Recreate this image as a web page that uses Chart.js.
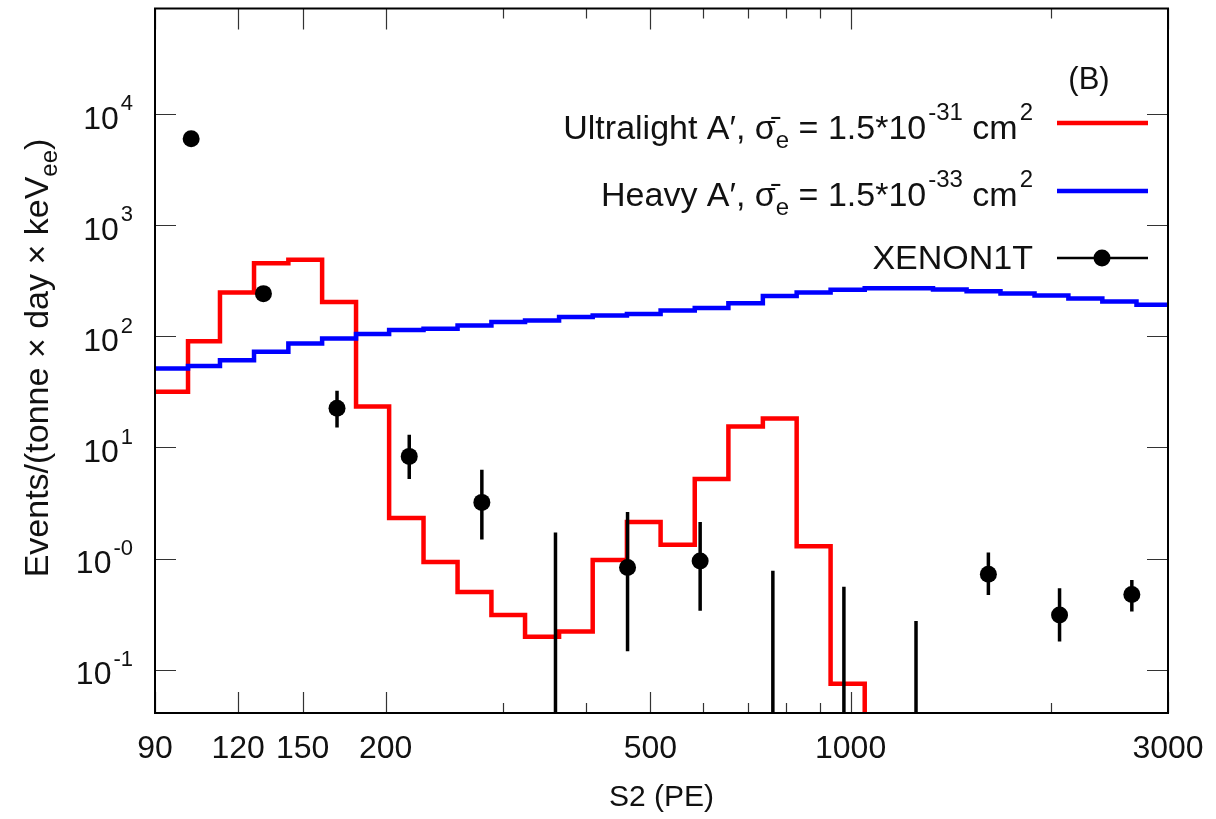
<!DOCTYPE html>
<html>
<head>
<meta charset="utf-8">
<script src="https://cdn.jsdelivr.net/npm/chart.js@4.4.0/dist/chart.umd.min.js"></script>
<style>
html, body { margin: 0; padding: 0; background: #fff; }
</style>
</head>
<body>
<canvas id="myChart" width="1216" height="819"></canvas>
<script>
// histogram bin edges in S2 (PE)
const binEdges = [89.7, 100.9, 112.7, 126.8, 142.8, 160.5, 180.5, 202.4, 228, 256.5, 288.4, 324, 364.5,
	409.5, 461, 518, 583, 655, 738, 829.6, 933, 1050, 1182, 1330, 1494, 1680, 1890, 2125, 2390, 2690, 3020];

// Ultralight A' (red), last bin is below the axis
const ultralight = [31.6, 90, 248, 455, 488, 203, 23.3, 2.31, 0.93, 0.50, 0.31, 0.198, 0.22, 0.97, 2.13,
	1.33, 5.2, 15.4, 18.2, 1.29, 0.0748, 0.01];

// Heavy A' (blue)
const heavy = [51.4, 54, 61, 72.5, 86, 95.5, 105, 114, 117, 125, 134.6, 139, 149, 153.6, 159, 171, 180,
	198, 230, 248, 262, 270, 270, 264, 254, 243, 233, 219, 206, 192];

// XENON1T data points, null rate = point below the axis
const xenonS2 = [102, 131, 169, 217, 279, 360, 462, 594, 764, 977, 1254, 1611, 2061, 2647];
const xenonRate = [6000, 242, 22.5, 8.3, 3.2, null, 0.83, 0.95, null, null, null, 0.72, 0.31, 0.475];
const xenonLow = [null, null, 15.1, 5.2, 1.48, 0.001, 0.146, 0.339, 0.001, 0.001, 0.001, 0.469, 0.179, 0.333];
const xenonHigh = [null, null, 32.3, 13.0, 6.28, 1.71, 2.62, 2.13, 0.774, 0.557, 0.274, 1.13, 0.54, 0.64];

const xMajorTicks = [90, 120, 150, 200, 500, 1000, 3000];
const xMinorTicks = [300, 400, 600, 700, 800, 900, 2000];
const yPowers = [-1, 0, 1, 2, 3, 4];
const yPowerLabels = ['-1', '-0', '1', '2', '3', '4'];

const panelLabel = '(B)';
const legendRows = [
	{ color: 'rgb(255,0,0)', parts: [['Ultralight A\u2032, \u03c3\u0304', ''], ['e', 'sub'], [' = 1.5*10', ''], ['-31', 'sup'], [' cm', ''], ['2', 'sup']] },
	{ color: 'rgb(0,0,255)', parts: [['Heavy A\u2032, \u03c3\u0304', ''], ['e', 'sub'], [' = 1.5*10', ''], ['-33', 'sup'], [' cm', ''], ['2', 'sup']] },
	{ color: '#000', dot: true, parts: [['XENON1T', '']] }
];
const yTitle = [['Events/(tonne \u00d7 day \u00d7 keV', ''], ['ee', 'sub'], [')', '']];

const FONT = "'Liberation Sans', Arial, sans-serif";

function histPoints(values) {
	let pts = values.map((v, i) => ({ x: binEdges[i], y: v }));
	pts.push({ x: binEdges[values.length], y: values[values.length - 1] });
	return pts;
}

let barPts = [];
xenonS2.forEach((x, i) => {
	if (xenonHigh[i] == null) return;
	barPts.push({ x: x, y: xenonLow[i] }, { x: x, y: xenonHigh[i] }, { x: x, y: null });
});

function drawRich(ctx, parts, x, y, size, align) {
	const fontOf = k => (k ? Math.round(size * 0.7) : size) + 'px ' + FONT;
	const widths = parts.map(([t, k]) => { ctx.font = fontOf(k); return ctx.measureText(t).width + (k === 'sup' ? 2 : 0); });
	const total = widths.reduce((a, b) => a + b, 0);
	let cx = align === 'right' ? x - total : align === 'center' ? x - total / 2 : x;
	ctx.textAlign = 'left';
	ctx.textBaseline = 'alphabetic';
	parts.forEach(([t, k], i) => {
		ctx.font = fontOf(k);
		let dy = k === 'sup' ? -0.57 * size : k === 'sub' ? 0.25 * size : 0;
		ctx.fillText(t, cx + (k === 'sup' ? 2 : 0), y + dy);
		cx += widths[i];
	});
}

function noPadding(scale) {
	scale.paddingLeft = 0;
	scale.paddingRight = 0;
	scale.paddingTop = 0;
	scale.paddingBottom = 0;
}

const framePlugin = {
	id: 'frame',
	afterDraw(chart) {
		const ctx = chart.ctx;
		const a = chart.chartArea;
		const xs = chart.scales.x, ys = chart.scales.y;
		ctx.save();

		// inward ticks
		ctx.strokeStyle = '#333';
		ctx.lineWidth = 1.2;
		ctx.beginPath();
		xMajorTicks.concat(xMinorTicks).forEach(v => {
			const px = Math.round(xs.getPixelForValue(v)) + 0.5;
			const len = xMinorTicks.includes(v) ? 10 : 21;
			ctx.moveTo(px, a.bottom); ctx.lineTo(px, a.bottom - len);
			ctx.moveTo(px, a.top); ctx.lineTo(px, a.top + len);
		});
		yPowers.forEach(p => {
			const py = Math.round(ys.getPixelForValue(Math.pow(10, p))) + 0.5;
			ctx.moveTo(a.left, py); ctx.lineTo(a.left + 21, py);
			ctx.moveTo(a.right, py); ctx.lineTo(a.right - 21, py);
		});
		ctx.stroke();

		// frame
		ctx.strokeStyle = '#000';
		ctx.lineWidth = 2;
		ctx.strokeRect(a.left, a.top, a.right - a.left, a.bottom - a.top);

		ctx.fillStyle = '#111';
		// y tick labels
		yPowers.forEach((p, i) => {
			const py = ys.getPixelForValue(Math.pow(10, p));
			drawRich(ctx, [['10', ''], [yPowerLabels[i], 'sup']], 133, py + 14.5, 32, 'right');
		});

		// y title
		ctx.save();
		ctx.translate(48, 358);
		ctx.rotate(-Math.PI / 2);
		drawRich(ctx, yTitle, 0, 0, 34, 'center');
		ctx.restore();

		// panel label
		ctx.font = '31px ' + FONT;
		ctx.textAlign = 'center';
		ctx.textBaseline = 'alphabetic';
		ctx.fillText(panelLabel, 1089, 89);

		// legend
		const rowLine = [123, 191, 258];
		const rowBase = [139, 206, 269];
		legendRows.forEach((row, i) => {
			ctx.fillStyle = '#111';
			drawRich(ctx, row.parts, 1033, rowBase[i], 34, 'right');
			ctx.strokeStyle = row.color;
			ctx.lineWidth = row.dot ? 2.5 : 4.5;
			ctx.beginPath();
			ctx.moveTo(1057, rowLine[i]);
			ctx.lineTo(1148, rowLine[i]);
			ctx.stroke();
			if (row.dot) {
				ctx.fillStyle = row.color;
				ctx.beginPath();
				ctx.arc(1102, rowLine[i], 8.5, 0, Math.PI * 2);
				ctx.fill();
			}
		});
		ctx.restore();
	}
};

Chart.defaults.font.family = FONT;
Chart.defaults.color = '#111';

const ctx = document.getElementById('myChart').getContext('2d');
const myChart = new Chart(ctx, {
	type: 'line',
	data: {
		datasets: [
			{
				label: 'XENON1T',
				data: xenonS2.map((x, i) => ({ x: x, y: xenonRate[i] })),
				showLine: false,
				pointRadius: 8.5,
				pointBackgroundColor: '#000',
				pointBorderWidth: 0,
				order: 0
			},
			{
				label: 'XENON1T errors',
				data: barPts,
				borderColor: '#000',
				borderWidth: 3.5,
				pointRadius: 0,
				spanGaps: false,
				clip: 0,
				order: 1
			},
			{
				label: 'Heavy A\u2032',
				data: histPoints(heavy),
				borderColor: 'rgb(0,0,255)',
				borderWidth: 4.5,
				pointRadius: 0,
				stepped: 'before',
				clip: 0,
				order: 2
			},
			{
				label: 'Ultralight A\u2032',
				data: histPoints(ultralight),
				borderColor: 'rgb(255,0,0)',
				borderWidth: 4.5,
				pointRadius: 0,
				stepped: 'before',
				clip: 0,
				order: 3
			}
		]
	},
	options: {
		responsive: false,
		animation: false,
		devicePixelRatio: 1,
		events: [],
		layout: { padding: { top: 5, right: 48, left: 0, bottom: 0 } },
		plugins: {
			legend: { display: false },
			tooltip: { enabled: false }
		},
		scales: {
			x: {
				type: 'logarithmic',
				min: 90,
				max: 3000,
				grid: { display: false, drawTicks: false },
				border: { display: false },
				afterBuildTicks: scale => { scale.ticks = xMajorTicks.map(v => ({ value: v })); },
				afterFit: scale => { scale.height = 106; noPadding(scale); },
				ticks: {
					autoSkip: false,
					maxRotation: 0,
					minRotation: 0,
					padding: 17,
					font: { size: 32 },
					color: '#111',
					callback: value => String(value)
				},
				title: {
					display: true,
					text: 'S2 (PE)',
					font: { size: 30 },
					color: '#111',
					padding: { top: 0, bottom: 3 }
				}
			},
			y: {
				type: 'logarithmic',
				min: 0.0407,
				max: 89100,
				grid: { display: false, drawTicks: false },
				border: { display: false },
				ticks: { display: false },
				afterFit: scale => { scale.width = 155; noPadding(scale); }
			}
		}
	},
	plugins: [framePlugin]
});
</script>
</body>
</html>
